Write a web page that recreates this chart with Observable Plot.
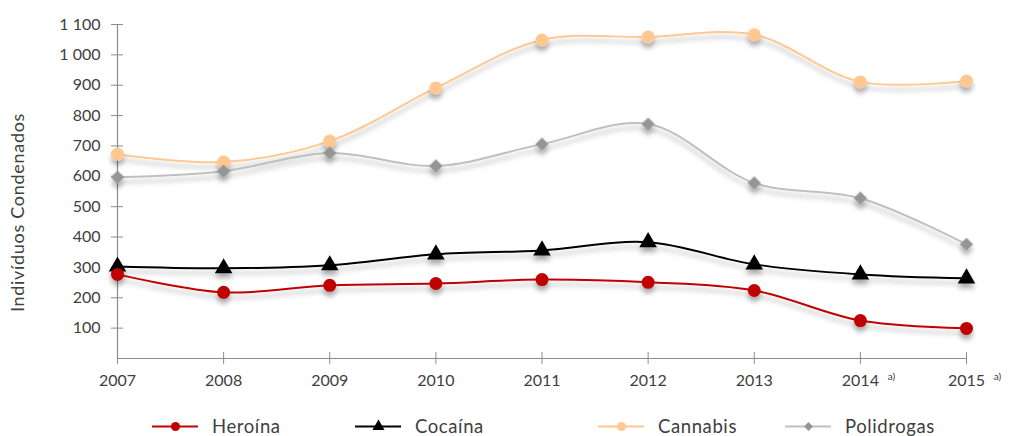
<!DOCTYPE html>
<html><head><meta charset="utf-8">
<script src="https://cdn.jsdelivr.net/npm/d3@7"></script>
<script src="https://cdn.jsdelivr.net/npm/@observablehq/plot@0.6"></script>
<style>
body{margin:0;background:#fff;font-family:Lato,"Open Sans",sans-serif;}
#wrap{position:relative;width:1010px;height:436px;}
#legend{position:absolute;top:415px;left:0;width:1010px;height:22px;}
.li{position:absolute;top:0;display:flex;align-items:center;color:#404040;font-size:18.5px;letter-spacing:0.6px;}
.li svg{margin-right:14px;}
</style></head>
<body><div id="wrap"><div id="chart"></div><div id="legend"></div></div>
<script>
const years = [2007,2008,2009,2010,2011,2012,2013,2014,2015];
const heroina = [277,218,241,247,260,251,224,125,99];
const cocaina = [303,297,307,343,356,383,310,277,264];
const cannabis = [673,647,716,891,1049,1059,1066,911,914];
const polidrogas = [597,617,677,634,706,772,578,528,376];
const yTicks = [100,200,300,400,500,600,700,800,900,1000,1100];
const footnoteYears = [2014,2015];
const seriesNames = ["Heroína","Cocaína","Cannabis","Polidrogas"];
const seriesValues = [heroina,cocaina,cannabis,polidrogas];
const lineColors = ["#C00000","#000000","#FFC891","#BFBFBF"];
const dotColors = ["#C00000","#000000","#FFC891","#959595"];
const symbols = ["circle","triangle","circle","diamond2"];
const radii = [6.5,6.5,6.5,6];
const legendLeft = [152,355,598,785];

const rows = [];
seriesNames.forEach((s,i)=>years.forEach((y,j)=>rows.push({series:s,year:y,value:seriesValues[i][j]})));

const fmt = d3.formatLocale({thousands:" ",grouping:[3],decimal:","}).format(",");
const order = [2,3,1,0];
const marks = [
  Plot.ruleX([2007],{stroke:"#8c8c8c",strokeWidth:1.2,y1:0,y2:1100}),
  Plot.ruleY([0],{stroke:"#8c8c8c",strokeWidth:1.2}),
  Plot.axisY({ticks:yTicks,tickSize:12,dx:6,stroke:"#8c8c8c",text:null,label:null}),
  Plot.axisY({ticks:yTicks,tickSize:0,tickPadding:17,tickFormat:fmt,fontSize:16,fill:"#404040",label:null}),
  Plot.axisX({ticks:years,tickSize:12,dy:-6,stroke:"#8c8c8c",text:null,label:null}),
  Plot.axisX({ticks:years,tickSize:0,tickPadding:16,tickFormat:d=>String(d),fontSize:16,fill:"#404040",label:null}),
  Plot.text(footnoteYears,{x:d=>d,y:0,text:()=>"a)",dx:31,dy:18,fontSize:10,fill:"#404040"}),
  Plot.text(["Indivíduos Condenados"],{frameAnchor:"left",textAnchor:"middle",rotate:-90,dx:-99,dy:21,fontSize:18,fill:"#404040",letterSpacing:0.7})
];
for (const i of order) {
  const data = rows.filter(r=>r.series===seriesNames[i]);
  marks.push(Plot.line(data,{x:"year",y:"value",stroke:lineColors[i],strokeWidth:2,curve:"catmull-rom"}));
}
for (const i of order) {
  const data = rows.filter(r=>r.series===seriesNames[i]);
  marks.push(Plot.dot(data,{x:"year",y:"value",fill:dotColors[i],symbol:symbols[i],r:radii[i],stroke:"none"}));
}
const chart = Plot.plot({
  width:1010,height:400,
  marginLeft:117,marginRight:44,marginTop:24,marginBottom:42,
  style:{fontFamily:"Lato, 'Open Sans', sans-serif",background:"white",overflow:"visible"},
  x:{domain:[2007,2015]},
  y:{domain:[0,1100]},
  marks
});
const ns="http://www.w3.org/2000/svg";
const defs=document.createElementNS(ns,"defs");
defs.innerHTML='<filter id="shadow" x="-20%" y="-20%" width="140%" height="160%"><feDropShadow dx="0" dy="5" stdDeviation="2.5" flood-color="#000" flood-opacity="0.28"/></filter>';
chart.insertBefore(defs,chart.firstChild);
chart.querySelectorAll('g[aria-label="line"], g[aria-label="dot"]').forEach(g=>g.setAttribute("filter","url(#shadow)"));
chart.querySelectorAll('g[aria-label="text"] text').forEach(t=>{ if(t.textContent==="Indivíduos Condenados") t.setAttribute("letter-spacing","0.7"); });
document.getElementById("chart").appendChild(chart);

const leg=document.getElementById("legend");
seriesNames.forEach((s,i)=>{
  const div=document.createElement("div");
  div.className="li";div.style.left=legendLeft[i]+"px";
  const sw=Plot.plot({width:46,height:22,margin:0,x:{domain:[0,1],axis:null},y:{domain:[0,1],axis:null},style:{overflow:"visible"},
    marks:[Plot.ruleY([0.5],{stroke:lineColors[i],strokeWidth:2}),
           Plot.dot([{x:0.5,y:0.5}],{x:"x",y:"y",fill:dotColors[i],symbol:symbols[i],r:radii[i]-2})]});
  div.appendChild(sw);
  const t=document.createElement("span");t.textContent=s;div.appendChild(t);
  leg.appendChild(div);
});
</script></body></html>
